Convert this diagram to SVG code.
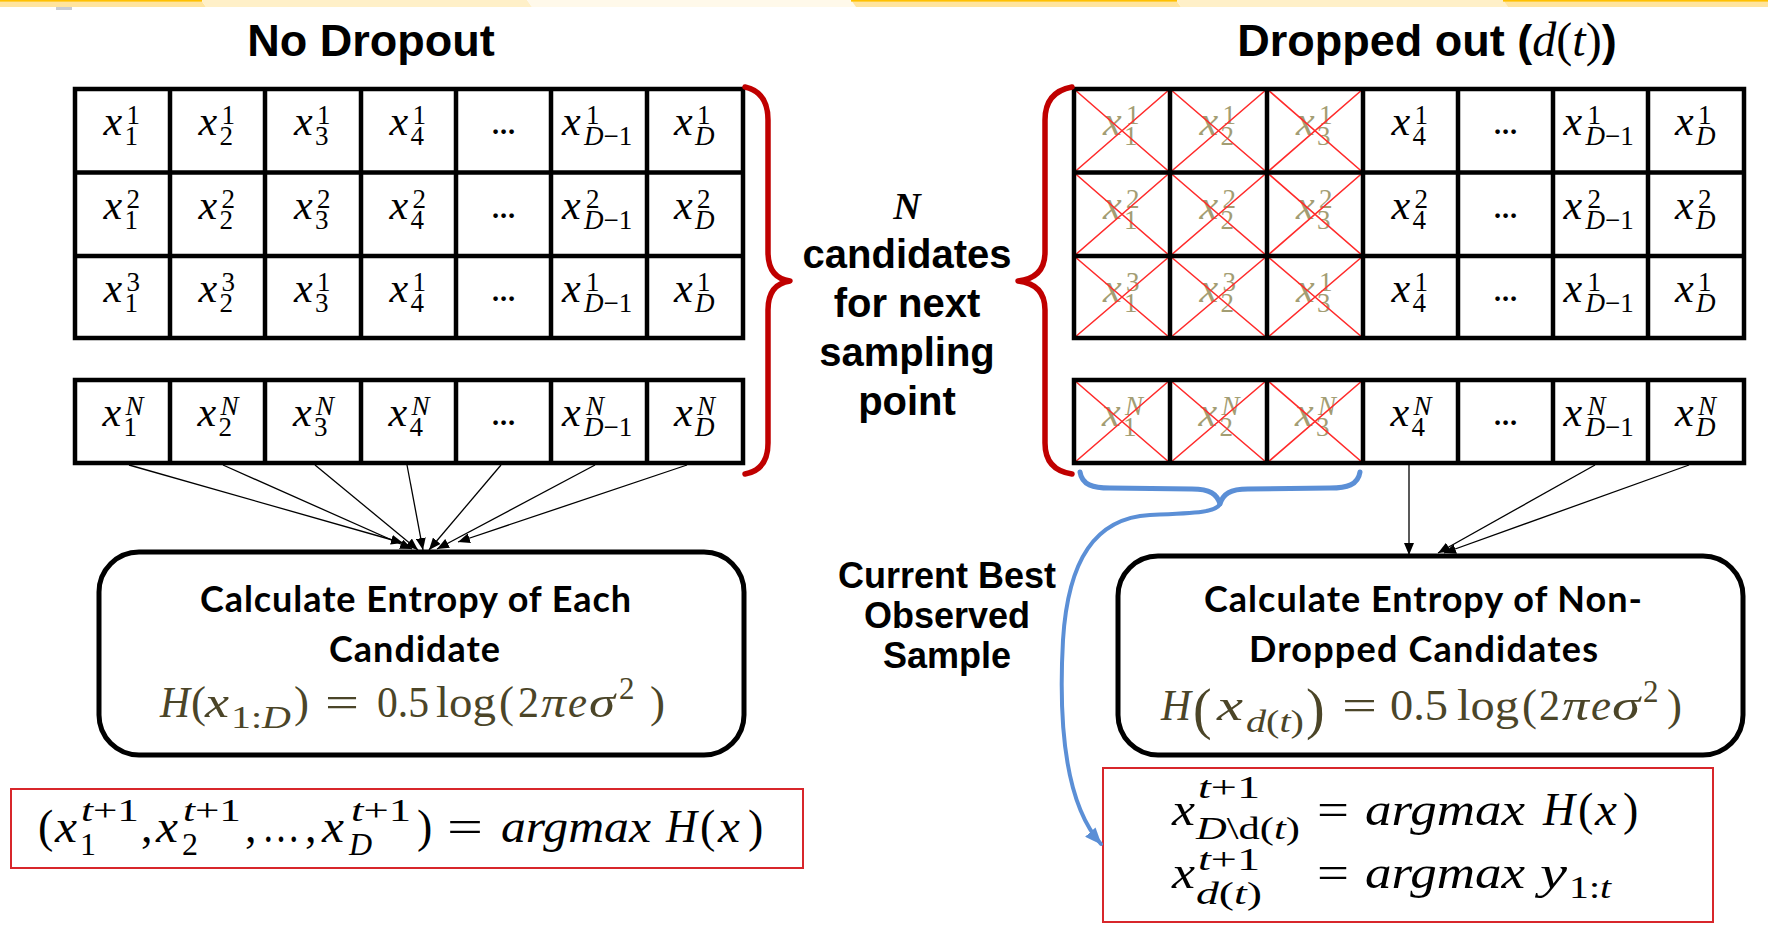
<svg xmlns="http://www.w3.org/2000/svg" width="1768" height="930" viewBox="0 0 1768 930">
<defs>
<style>
.gl{fill:none;stroke:#000;stroke-width:4.5}
.m{font-family:'Liberation Serif','DejaVu Serif',serif}
.i{font-style:italic}
.c{font-size:42px;fill:#000}
.cd{font-size:42px;fill:#a39d73}
.s{font-size:27px}
.dots{font-family:Lato,'Liberation Sans',sans-serif;font-weight:bold;font-size:30px;text-anchor:middle}
.xl{fill:none;stroke:#ff2b2b;stroke-width:1.6}
.brace{fill:none;stroke:#c00000;stroke-width:5.5;stroke-linecap:round;stroke-linejoin:round}
.title{font-family:'Liberation Sans',Arial,sans-serif;font-weight:bold;font-size:45px;text-anchor:middle}
.lbl{font-family:'Liberation Sans',Arial,sans-serif;font-weight:bold;font-size:40px;text-anchor:middle}
.lbl2{font-family:'Liberation Sans',Arial,sans-serif;font-weight:bold;font-size:36px;text-anchor:middle}
.box{fill:#fff;stroke:#000;stroke-width:5}
.bt{font-family:Lato,'Liberation Sans',sans-serif;font-weight:bold;font-size:36px;text-anchor:middle}
.f{font-size:45px;fill:#4b4528}
.fs{font-size:31px;fill:#4b4528}
.fb{font-size:46px;fill:#000}
.fbs{font-size:32px;fill:#000}
.rbox{fill:none;stroke:#d8262b;stroke-width:2}
.arr{fill:none;stroke:#000;stroke-width:1.3}
.blue{fill:none;stroke:#5b8fd6;stroke-linecap:round;stroke-linejoin:round}
</style>
<marker id="ah" markerUnits="userSpaceOnUse" markerWidth="13" markerHeight="10" refX="12" refY="5" orient="auto"><path d="M0,0 L12,5 L0,10 z" fill="#000"/></marker>
<marker id="bh" markerUnits="userSpaceOnUse" markerWidth="18" markerHeight="14" refX="16" refY="7" orient="auto"><path d="M0,0 L17,7 L0,14 z" fill="#5b8fd6"/></marker>
</defs>
<rect width="1768" height="930" fill="#fff"/>

<g id="header-strip">
<polygon points="0,0 201,0 206,7 0,7" fill="#ffe49e"/>
<polygon points="201,0 527,0 532,7 206,7" fill="#fff0c8"/>
<polygon points="527,0 851,0 856,7 532,7" fill="#fff9ea"/>
<polygon points="851,0 1176,0 1181,7 856,7" fill="#ffe49e"/>
<polygon points="1176,0 1503,0 1508,7 1181,7" fill="#fff0c8"/>
<polygon points="1503,0 1768,0 1768,7 1508,7" fill="#ffe49e"/>
<rect x="0" y="0" width="202" height="1.6" fill="#ffc000"/>
<rect x="851" y="0" width="326" height="1.6" fill="#ffc000"/>
<rect x="1503" y="0" width="265" height="1.6" fill="#ffc000"/>
<rect x="56" y="7" width="16" height="3" fill="#c9ccd3"/>
</g>

<g id="title-no-dropout"><text class="title" x="371" y="56">No Dropout</text></g>
<g id="title-dropped-out"><text class="title" x="1427" y="56">Dropped out (<tspan class="m i" font-weight="normal" font-size="48">d</tspan><tspan class="m" font-weight="normal" font-size="48">(</tspan><tspan class="m i" font-weight="normal" font-size="48">t</tspan><tspan class="m" font-weight="normal" font-size="48">)</tspan>)</text></g>

<!-- LEFT GRID -->
<g id="grid-left">
<g class="m c">
<text><tspan class="i" x="103.5" y="135">x</tspan><tspan class="s" x="126.5" y="124">1</tspan><tspan class="s" x="124.5" y="145">1</tspan></text>
<text><tspan class="i" x="198.5" y="135">x</tspan><tspan class="s" x="221.5" y="124">1</tspan><tspan class="s" x="219.5" y="145">2</tspan></text>
<text><tspan class="i" x="294" y="135">x</tspan><tspan class="s" x="317" y="124">1</tspan><tspan class="s" x="315" y="145">3</tspan></text>
<text><tspan class="i" x="389.5" y="135">x</tspan><tspan class="s" x="412.5" y="124">1</tspan><tspan class="s" x="410.5" y="145">4</tspan></text>
<text><tspan class="i" x="562" y="135">x</tspan><tspan class="s" x="586" y="124">1</tspan><tspan class="s" x="584" y="145"><tspan class="i">D</tspan>−1</tspan></text>
<text><tspan class="i" x="674" y="135">x</tspan><tspan class="s" x="697" y="124">1</tspan><tspan class="s i" x="695" y="145">D</tspan></text>

<text><tspan class="i" x="103.5" y="219">x</tspan><tspan class="s" x="126.5" y="208">2</tspan><tspan class="s" x="124.5" y="229">1</tspan></text>
<text><tspan class="i" x="198.5" y="219">x</tspan><tspan class="s" x="221.5" y="208">2</tspan><tspan class="s" x="219.5" y="229">2</tspan></text>
<text><tspan class="i" x="294" y="219">x</tspan><tspan class="s" x="317" y="208">2</tspan><tspan class="s" x="315" y="229">3</tspan></text>
<text><tspan class="i" x="389.5" y="219">x</tspan><tspan class="s" x="412.5" y="208">2</tspan><tspan class="s" x="410.5" y="229">4</tspan></text>
<text><tspan class="i" x="562" y="219">x</tspan><tspan class="s" x="586" y="208">2</tspan><tspan class="s" x="584" y="229"><tspan class="i">D</tspan>−1</tspan></text>
<text><tspan class="i" x="674" y="219">x</tspan><tspan class="s" x="697" y="208">2</tspan><tspan class="s i" x="695" y="229">D</tspan></text>

<text><tspan class="i" x="103.5" y="302">x</tspan><tspan class="s" x="126.5" y="291">3</tspan><tspan class="s" x="124.5" y="312">1</tspan></text>
<text><tspan class="i" x="198.5" y="302">x</tspan><tspan class="s" x="221.5" y="291">3</tspan><tspan class="s" x="219.5" y="312">2</tspan></text>
<text><tspan class="i" x="294" y="302">x</tspan><tspan class="s" x="317" y="291">1</tspan><tspan class="s" x="315" y="312">3</tspan></text>
<text><tspan class="i" x="389.5" y="302">x</tspan><tspan class="s" x="412.5" y="291">1</tspan><tspan class="s" x="410.5" y="312">4</tspan></text>
<text><tspan class="i" x="562" y="302">x</tspan><tspan class="s" x="586" y="291">1</tspan><tspan class="s" x="584" y="312"><tspan class="i">D</tspan>−1</tspan></text>
<text><tspan class="i" x="674" y="302">x</tspan><tspan class="s" x="697" y="291">1</tspan><tspan class="s i" x="695" y="312">D</tspan></text>
</g>
<g class="dots">
<text x="503.5" y="134">…</text><text x="503.5" y="218">…</text><text x="503.5" y="301">…</text>
</g>
<rect class="gl" x="75" y="89" width="668" height="249"/>
<path class="gl" d="M170,89V338M265,89V338M361,89V338M456,89V338M551,89V338M647,89V338M75,172.5H743M75,256H743"/>
</g>

<g id="grid-left-n">
<g class="m c">
<text><tspan class="i" x="102.5" y="426">x</tspan><tspan class="s i" x="125.5" y="415">N</tspan><tspan class="s" x="123.5" y="436">1</tspan></text>
<text><tspan class="i" x="197.5" y="426">x</tspan><tspan class="s i" x="220.5" y="415">N</tspan><tspan class="s" x="218.5" y="436">2</tspan></text>
<text><tspan class="i" x="293" y="426">x</tspan><tspan class="s i" x="316" y="415">N</tspan><tspan class="s" x="314" y="436">3</tspan></text>
<text><tspan class="i" x="388.5" y="426">x</tspan><tspan class="s i" x="411.5" y="415">N</tspan><tspan class="s" x="409.5" y="436">4</tspan></text>
<text><tspan class="i" x="562" y="426">x</tspan><tspan class="s i" x="586" y="415">N</tspan><tspan class="s" x="584" y="436"><tspan class="i">D</tspan>−1</tspan></text>
<text><tspan class="i" x="674" y="426">x</tspan><tspan class="s i" x="697" y="415">N</tspan><tspan class="s i" x="695" y="436">D</tspan></text>
</g>
<text class="dots" x="503.5" y="425">…</text>
<rect class="gl" x="75" y="380" width="668" height="83"/>
<path class="gl" d="M170,380V463M265,380V463M361,380V463M456,380V463M551,380V463M647,380V463"/>
</g>

<!-- RIGHT GRID -->
<g id="grid-right">
<g class="m cd">
<text><tspan class="i" x="1103" y="135">x</tspan><tspan class="s" x="1126" y="124">1</tspan><tspan class="s" x="1124" y="145">1</tspan></text>
<text><tspan class="i" x="1199.5" y="135">x</tspan><tspan class="s" x="1222.5" y="124">1</tspan><tspan class="s" x="1220.5" y="145">2</tspan></text>
<text><tspan class="i" x="1296" y="135">x</tspan><tspan class="s" x="1319" y="124">1</tspan><tspan class="s" x="1317" y="145">3</tspan></text>
<text><tspan class="i" x="1103" y="219">x</tspan><tspan class="s" x="1126" y="208">2</tspan><tspan class="s" x="1124" y="229">1</tspan></text>
<text><tspan class="i" x="1199.5" y="219">x</tspan><tspan class="s" x="1222.5" y="208">2</tspan><tspan class="s" x="1220.5" y="229">2</tspan></text>
<text><tspan class="i" x="1296" y="219">x</tspan><tspan class="s" x="1319" y="208">2</tspan><tspan class="s" x="1317" y="229">3</tspan></text>
<text><tspan class="i" x="1103" y="302">x</tspan><tspan class="s" x="1126" y="291">3</tspan><tspan class="s" x="1124" y="312">1</tspan></text>
<text><tspan class="i" x="1199.5" y="302">x</tspan><tspan class="s" x="1222.5" y="291">3</tspan><tspan class="s" x="1220.5" y="312">2</tspan></text>
<text><tspan class="i" x="1296" y="302">x</tspan><tspan class="s" x="1319" y="291">1</tspan><tspan class="s" x="1317" y="312">3</tspan></text>
</g>
<g class="m c">
<text><tspan class="i" x="1391.5" y="135">x</tspan><tspan class="s" x="1414.5" y="124">1</tspan><tspan class="s" x="1412.5" y="145">4</tspan></text>
<text><tspan class="i" x="1563.5" y="135">x</tspan><tspan class="s" x="1587.5" y="124">1</tspan><tspan class="s" x="1585.5" y="145"><tspan class="i">D</tspan>−1</tspan></text>
<text><tspan class="i" x="1675" y="135">x</tspan><tspan class="s" x="1698" y="124">1</tspan><tspan class="s i" x="1696" y="145">D</tspan></text>
<text><tspan class="i" x="1391.5" y="219">x</tspan><tspan class="s" x="1414.5" y="208">2</tspan><tspan class="s" x="1412.5" y="229">4</tspan></text>
<text><tspan class="i" x="1563.5" y="219">x</tspan><tspan class="s" x="1587.5" y="208">2</tspan><tspan class="s" x="1585.5" y="229"><tspan class="i">D</tspan>−1</tspan></text>
<text><tspan class="i" x="1675" y="219">x</tspan><tspan class="s" x="1698" y="208">2</tspan><tspan class="s i" x="1696" y="229">D</tspan></text>
<text><tspan class="i" x="1391.5" y="302">x</tspan><tspan class="s" x="1414.5" y="291">1</tspan><tspan class="s" x="1412.5" y="312">4</tspan></text>
<text><tspan class="i" x="1563.5" y="302">x</tspan><tspan class="s" x="1587.5" y="291">1</tspan><tspan class="s" x="1585.5" y="312"><tspan class="i">D</tspan>−1</tspan></text>
<text><tspan class="i" x="1675" y="302">x</tspan><tspan class="s" x="1698" y="291">1</tspan><tspan class="s i" x="1696" y="312">D</tspan></text>
</g>
<g class="dots">
<text x="1505.5" y="134">…</text><text x="1505.5" y="218">…</text><text x="1505.5" y="301">…</text>
</g>
<path class="xl" d="M1074,89L1170,172.5M1170,89L1074,172.5M1170,89L1267,172.5M1267,89L1170,172.5M1267,89L1363,172.5M1363,89L1267,172.5M1074,172.5L1170,256M1170,172.5L1074,256M1170,172.5L1267,256M1267,172.5L1170,256M1267,172.5L1363,256M1363,172.5L1267,256M1074,256L1170,338M1170,256L1074,338M1170,256L1267,338M1267,256L1170,338M1267,256L1363,338M1363,256L1267,338"/>
<rect class="gl" x="1074" y="89" width="670" height="249"/>
<path class="gl" d="M1170,89V338M1267,89V338M1363,89V338M1458,89V338M1553,89V338M1648,89V338M1074,172.5H1744M1074,256H1744"/>
</g>

<g id="grid-right-n">
<g class="m cd">
<text><tspan class="i" x="1102" y="426">x</tspan><tspan class="s i" x="1125" y="415">N</tspan><tspan class="s" x="1123" y="436">1</tspan></text>
<text><tspan class="i" x="1198.5" y="426">x</tspan><tspan class="s i" x="1221.5" y="415">N</tspan><tspan class="s" x="1219.5" y="436">2</tspan></text>
<text><tspan class="i" x="1295" y="426">x</tspan><tspan class="s i" x="1318" y="415">N</tspan><tspan class="s" x="1316" y="436">3</tspan></text>
</g>
<g class="m c">
<text><tspan class="i" x="1390.5" y="426">x</tspan><tspan class="s i" x="1413.5" y="415">N</tspan><tspan class="s" x="1411.5" y="436">4</tspan></text>
<text><tspan class="i" x="1563.5" y="426">x</tspan><tspan class="s i" x="1587.5" y="415">N</tspan><tspan class="s" x="1585.5" y="436"><tspan class="i">D</tspan>−1</tspan></text>
<text><tspan class="i" x="1675" y="426">x</tspan><tspan class="s i" x="1698" y="415">N</tspan><tspan class="s i" x="1696" y="436">D</tspan></text>
</g>
<text class="dots" x="1505.5" y="425">…</text>
<path class="xl" d="M1074,380L1170,463M1170,380L1074,463M1170,380L1267,463M1267,380L1170,463M1267,380L1363,463M1363,380L1267,463"/>
<rect class="gl" x="1074" y="380" width="670" height="83"/>
<path class="gl" d="M1170,380V463M1267,380V463M1363,380V463M1458,380V463M1553,380V463M1648,380V463"/>
</g>

<g id="brace-left"><path class="brace" d="M745,87 Q768,92 768,120 L768,252 Q768,278 790,281 Q768,284 768,310 L768,443 Q768,470 745,474"/></g>
<g id="brace-right"><path class="brace" d="M1072,87 Q1045,92 1045,120 L1045,252 Q1045,278 1018,281 Q1045,284 1045,310 L1045,443 Q1045,470 1072,474"/></g>

<g id="label-candidates">
<text class="m i" x="907" y="219" font-size="38" font-weight="bold" text-anchor="middle">N</text>
<text class="lbl" x="907" y="268">candidates</text>
<text class="lbl" x="907" y="317">for next</text>
<text class="lbl" x="907" y="366">sampling</text>
<text class="lbl" x="907" y="415">point</text>
</g>

<g id="label-best">
<text class="lbl2" x="947" y="588">Current Best</text>
<text class="lbl2" x="947" y="628">Observed</text>
<text class="lbl2" x="947" y="668">Sample</text>
</g>

<g id="blue-brace"><path class="blue" stroke-width="5" d="M1080,472 C1082,485 1093,488 1110,488 L1192,489 C1210,489 1217,494 1220,504 C1223,494 1230,489 1248,489 L1330,488 C1347,488 1358,485 1360,472"/></g>

<g id="box-left">
<rect class="box" x="99" y="552" width="645" height="203" rx="40"/>
<text class="bt" x="415.5" y="612" textLength="431">Calculate Entropy of Each</text>
<text class="bt" x="414.5" y="662" textLength="171">Candidate</text>
<g class="m f">
<text class="i" x="160" y="717" textLength="30" lengthAdjust="spacingAndGlyphs">H</text>
<text x="191" y="717">(</text>
<text class="i" x="205" y="717" textLength="24" lengthAdjust="spacingAndGlyphs">x</text>
<text class="fs" x="231" y="728" textLength="60" lengthAdjust="spacingAndGlyphs">1:<tspan class="i">D</tspan></text>
<text x="294" y="717">)</text>
<text x="325" y="717" textLength="34" lengthAdjust="spacingAndGlyphs">=</text>
<text x="377" y="717" textLength="52" lengthAdjust="spacingAndGlyphs">0.5</text>
<text x="436" y="717" textLength="60" lengthAdjust="spacingAndGlyphs">log</text>
<text x="499" y="717">(</text>
<text x="518" y="717" textLength="21" lengthAdjust="spacingAndGlyphs">2</text>
<text class="i" x="541" y="717" textLength="25" lengthAdjust="spacingAndGlyphs">π</text>
<text class="i" x="568" y="717" textLength="19" lengthAdjust="spacingAndGlyphs">e</text>
<text class="i" x="589" y="717" textLength="26" lengthAdjust="spacingAndGlyphs">σ</text>
<text class="fs" x="619" y="699">2</text>
<text x="650" y="717">)</text>
</g>
</g>

<g id="box-right">
<rect class="box" x="1118" y="556" width="625" height="199" rx="40"/>
<text class="bt" x="1423" y="612" textLength="438">Calculate Entropy of Non-</text>
<text class="bt" x="1423.5" y="662" textLength="349">Dropped Candidates</text>
<g class="m f">
<text class="i" x="1161" y="720" textLength="30" lengthAdjust="spacingAndGlyphs">H</text>
<text x="1193" y="728" font-size="56">(</text>
<text class="i" x="1217" y="720" textLength="26" lengthAdjust="spacingAndGlyphs">x</text>
<text class="fs" x="1246" y="732" textLength="58" lengthAdjust="spacingAndGlyphs"><tspan class="i">d</tspan>(<tspan class="i">t</tspan>)</text>
<text x="1306" y="728" font-size="56">)</text>
<text x="1342" y="720" textLength="35" lengthAdjust="spacingAndGlyphs">=</text>
<text x="1390" y="720" textLength="58" lengthAdjust="spacingAndGlyphs">0.5</text>
<text x="1457" y="720" textLength="62" lengthAdjust="spacingAndGlyphs">log</text>
<text x="1522" y="720">(</text>
<text x="1539" y="720" textLength="21" lengthAdjust="spacingAndGlyphs">2</text>
<text class="i" x="1562" y="720" textLength="27" lengthAdjust="spacingAndGlyphs">π</text>
<text class="i" x="1591" y="720" textLength="20" lengthAdjust="spacingAndGlyphs">e</text>
<text class="i" x="1612" y="720" textLength="28" lengthAdjust="spacingAndGlyphs">σ</text>
<text class="fs" x="1643" y="702">2</text>
<text x="1667" y="720">)</text>
</g>
</g>

<g id="result-left">
<rect class="rbox" x="11" y="789" width="792" height="79"/>
<g class="m fb">
<text x="38" y="842">(</text>
<text class="i" x="55" y="842" textLength="22" lengthAdjust="spacingAndGlyphs">x</text>
<text class="fbs" x="81" y="821" textLength="58" lengthAdjust="spacingAndGlyphs"><tspan class="i">t</tspan>+1</text>
<text class="fbs" x="80" y="855">1</text>
<text x="141" y="842">,</text>
<text class="i" x="156" y="842" textLength="22" lengthAdjust="spacingAndGlyphs">x</text>
<text class="fbs" x="183" y="821" textLength="58" lengthAdjust="spacingAndGlyphs"><tspan class="i">t</tspan>+1</text>
<text class="fbs" x="182" y="855">2</text>
<text x="245" y="842">,</text>
<text x="262" y="842" textLength="38" lengthAdjust="spacingAndGlyphs">…</text>
<text x="305" y="842">,</text>
<text class="i" x="322" y="842" textLength="22" lengthAdjust="spacingAndGlyphs">x</text>
<text class="fbs" x="351" y="821" textLength="60" lengthAdjust="spacingAndGlyphs"><tspan class="i">t</tspan>+1</text>
<text class="fbs i" x="349" y="855">D</text>
<text x="417" y="842">)</text>
<text x="447" y="842" textLength="36" lengthAdjust="spacingAndGlyphs">=</text>
<text class="i" x="501" y="842" textLength="150" lengthAdjust="spacingAndGlyphs">argmax</text>
<text class="i" x="666" y="842" textLength="31" lengthAdjust="spacingAndGlyphs">H</text>
<text x="700" y="842">(</text>
<text class="i" x="718" y="842" textLength="22" lengthAdjust="spacingAndGlyphs">x</text>
<text x="748" y="842">)</text>
</g>
</g>

<g id="result-right">
<rect class="rbox" x="1103" y="768" width="610" height="154"/>
<g class="m fb">
<text class="i" x="1172" y="825" textLength="23" lengthAdjust="spacingAndGlyphs">x</text>
<text class="fbs" x="1198" y="798" textLength="62" lengthAdjust="spacingAndGlyphs"><tspan class="i">t</tspan>+1</text>
<text class="fbs" x="1196" y="839" textLength="104" lengthAdjust="spacingAndGlyphs"><tspan class="i">D</tspan>\d(<tspan class="i">t</tspan>)</text>
<text x="1317" y="825" textLength="32" lengthAdjust="spacingAndGlyphs">=</text>
<text class="i" x="1365" y="825" textLength="160" lengthAdjust="spacingAndGlyphs">argmax</text>
<text class="i" x="1543" y="825" textLength="32" lengthAdjust="spacingAndGlyphs">H</text>
<text x="1578" y="825">(</text>
<text class="i" x="1595" y="825" textLength="22" lengthAdjust="spacingAndGlyphs">x</text>
<text x="1623" y="825">)</text>
<text class="i" x="1172" y="888" textLength="23" lengthAdjust="spacingAndGlyphs">x</text>
<text class="fbs" x="1198" y="870" textLength="62" lengthAdjust="spacingAndGlyphs"><tspan class="i">t</tspan>+1</text>
<text class="fbs" x="1196" y="904" textLength="66" lengthAdjust="spacingAndGlyphs"><tspan class="i">d</tspan>(<tspan class="i">t</tspan>)</text>
<text x="1317" y="888" textLength="32" lengthAdjust="spacingAndGlyphs">=</text>
<text class="i" x="1365" y="888" textLength="160" lengthAdjust="spacingAndGlyphs">argmax</text>
<text class="i" x="1540" y="888" textLength="27" lengthAdjust="spacingAndGlyphs">y</text>
<text class="fbs" x="1569" y="898" textLength="42" lengthAdjust="spacingAndGlyphs">1:<tspan class="i">t</tspan></text>
</g>
</g>

<g id="connectors">
<path class="arr" marker-end="url(#ah)" d="M129,465 L403,543"/>
<path class="arr" marker-end="url(#ah)" d="M223,465 L412,549"/>
<path class="arr" marker-end="url(#ah)" d="M315,465 L418,550"/>
<path class="arr" marker-end="url(#ah)" d="M407,465 L423,550"/>
<path class="arr" marker-end="url(#ah)" d="M501,465 L429,550"/>
<path class="arr" marker-end="url(#ah)" d="M595,465 L437,549"/>
<path class="arr" marker-end="url(#ah)" d="M687,465 L458,542"/>
<path class="arr" marker-end="url(#ah)" d="M1409,465 L1409,555"/>
<path class="arr" marker-end="url(#ah)" d="M1595,465 L1438,553"/>
<path class="arr" marker-end="url(#ah)" d="M1689,465 L1444,553"/>
<path class="blue" stroke-width="4" marker-end="url(#bh)" d="M1220,504 C1216,512 1200,513 1150,515 C1095,518 1068,560 1063,640 C1058,730 1066,805 1101,844"/>
</g>
</svg>
